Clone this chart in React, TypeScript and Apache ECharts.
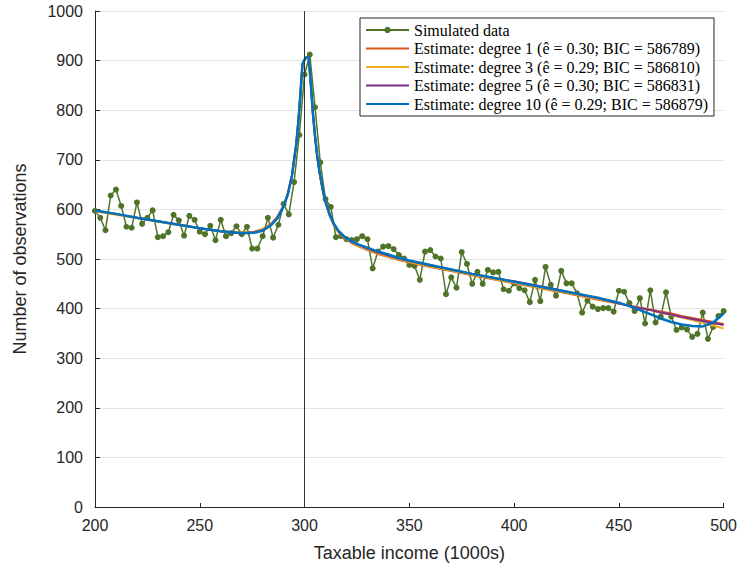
import React, { useEffect, useRef } from "react";
import * as echarts from "echarts";

// Income bins (1000s) of the simulated data
const incomeBins = [
  200, 202.5, 205, 207.5, 210, 212.5, 215, 217.5, 220, 222.5,
  225, 227.5, 230, 232.5, 235, 237.5, 240, 242.5, 245, 247.5,
  250, 252.5, 255, 257.5, 260, 262.5, 265, 267.5, 270, 272.5,
  275, 277.5, 280, 282.5, 285, 287.5, 290, 292.5, 295, 297.5,
  300, 302.5, 305, 307.5, 310, 312.5, 315, 317.5, 320, 322.5,
  325, 327.5, 330, 332.5, 335, 337.5, 340, 342.5, 345, 347.5,
  350, 352.5, 355, 357.5, 360, 362.5, 365, 367.5, 370, 372.5,
  375, 377.5, 380, 382.5, 385, 387.5, 390, 392.5, 395, 397.5,
  400, 402.5, 405, 407.5, 410, 412.5, 415, 417.5, 420, 422.5,
  425, 427.5, 430, 432.5, 435, 437.5, 440, 442.5, 445, 447.5,
  450, 452.5, 455, 457.5, 460, 462.5, 465, 467.5, 470, 472.5,
  475, 477.5, 480, 482.5, 485, 487.5, 490, 492.5, 495, 497.5,
  500,
];

// Number of observations per bin (simulated data)
const observed = [
  597, 583, 558, 628, 640, 607, 565, 563, 614, 571,
  583, 598, 544, 546, 554, 589, 578, 547, 587, 579,
  555, 550, 567, 538, 579, 546, 552, 566, 550, 565,
  521, 521, 546, 583, 543, 569, 611, 590, 655, 750,
  872, 912, 806, 695, 621, 605, 544, 546, 540, 538,
  540, 546, 540, 481, 515, 525, 526, 520, 508, 501,
  488, 486, 458, 515, 518, 505, 501, 429, 463, 442,
  514, 490, 450, 474, 450, 478, 473, 474, 439, 436,
  451, 441, 437, 413, 458, 415, 484, 448, 426, 476,
  451, 451, 431, 392, 416, 404, 399, 401, 401, 394,
  436, 434, 411, 395, 421, 370, 437, 372, 384, 433,
  384, 357, 362, 358, 343, 349, 392, 339, 363, 385,
  395,
];

// Evaluation grid of the fitted curves
const fitX = [
  200, 210, 220, 230, 240, 250, 260, 270, 276, 280,
  284, 287, 290, 292, 294, 296, 297, 298, 299, 300,
  301, 302, 303, 304, 305, 306, 307, 308, 309, 310,
  312, 314, 316, 318, 320, 323, 326, 330, 335, 340,
  345, 350, 360, 370, 380, 390, 400, 410, 420, 430,
  440, 450, 455, 460, 465, 470, 475, 480, 485, 490,
  495, 500,
];

const fitDeg1 = [
  597, 590, 583, 576, 569, 562, 556, 553, 555, 560,
  571, 585, 608, 632, 669, 731, 776, 831, 893, 902,
  907, 906, 852, 793, 747, 708, 678, 653, 631, 613,
  587, 568, 555, 546, 539, 531, 525, 518, 510, 504,
  498, 493, 484, 476, 467, 459, 451, 443, 435, 427,
  418, 410, 406, 402, 398, 394, 390, 385, 381, 377,
  373, 369,
];

const fitDeg3 = [
  596, 589, 582, 575, 568, 562, 556, 553, 555, 559,
  570, 584, 607, 631, 668, 730, 775, 830, 893, 902,
  907, 906, 852, 793, 747, 709, 679, 654, 632, 614,
  588, 569, 556, 547, 540, 532, 526, 519, 511, 505,
  499, 494, 485, 477, 468, 460, 452, 444, 436, 428,
  419, 410, 406, 401, 397, 392, 387, 382, 377, 371,
  366, 360,
];

const fitDeg5 = [
  598, 591, 583, 576, 569, 562, 556, 552, 554, 558,
  569, 583, 606, 630, 668, 730, 775, 830, 893, 902,
  907, 906, 852, 793, 748, 709, 679, 655, 633, 615,
  589, 570, 557, 548, 541, 533, 528, 521, 513, 507,
  501, 496, 487, 479, 470, 462, 455, 447, 439, 430,
  421, 410, 406, 401, 397, 392, 388, 383, 379, 375,
  371, 367,
];

const fitDeg10 = [
  598, 591, 583, 576, 569, 562, 556, 552, 553, 557,
  568, 582, 606, 630, 668, 730, 775, 830, 893, 902,
  907, 906, 852, 793, 748, 710, 680, 656, 634, 616,
  590, 571, 558, 549, 542, 535, 529, 523, 515, 509,
  502, 497, 488, 479, 470, 462, 454, 446, 438, 430,
  422, 412, 405, 397, 389, 380, 373, 368, 365, 364,
  372, 390,
];

const seriesNames = [
  "Simulated data",
  "Estimate: degree 1 (ê = 0.30; BIC = 586789)",
  "Estimate: degree 3 (ê = 0.29; BIC = 586810)",
  "Estimate: degree 5 (ê = 0.30; BIC = 586831)",
  "Estimate: degree 10 (ê = 0.29; BIC = 586879)",
];

const bunchingThreshold = 300;

const COLORS = {
  data: "#4f7428",
  deg1: "#D95319",
  deg3: "#EDB120",
  deg5: "#7E2F8E",
  deg10: "#0072BD",
  axis: "#262626",
};

function pairs(xs: number[], ys: number[]) {
  return xs.map((x, i) => [x, ys[i]]);
}

export default function App() {
  const ref = useRef<HTMLDivElement>(null);

  useEffect(() => {
    document.body.style.margin = "0";
    if (!ref.current) return;
    const chart = echarts.init(ref.current, null, { renderer: "svg" });

    const fitSeries = (name: string, ys: number[], color: string, width: number) => ({
      type: "line",
      name,
      data: pairs(fitX, ys),
      showSymbol: false,
      symbol: "none",
      smooth: false,
      lineStyle: { color, width },
      itemStyle: { color },
      z: 3,
    });

    chart.setOption({
      animation: false,
      backgroundColor: "#ffffff",
      textStyle: { fontFamily: "'Liberation Sans', Arial, sans-serif" },
      grid: { left: 95, right: 15, top: 11, bottom: 69 },
      legend: {
        orient: "vertical",
        left: 360,
        top: 18,
        itemWidth: 43,
        itemHeight: 8,
        itemGap: 2.5,
        padding: [4, 6, 4, 5],
        backgroundColor: "#ffffff",
        borderColor: COLORS.axis,
        borderWidth: 1,
        borderRadius: 0,
        textStyle: {
          fontFamily: "'Liberation Serif', 'DejaVu Serif', serif",
          fontSize: 16,
          lineHeight: 16,
          color: "#000000",
        },
        data: [
          { name: seriesNames[0] },
          { name: seriesNames[1], itemStyle: { opacity: 0 } },
          { name: seriesNames[2], itemStyle: { opacity: 0 } },
          { name: seriesNames[3], itemStyle: { opacity: 0 } },
          { name: seriesNames[4], itemStyle: { opacity: 0 } },
        ],
      },
      xAxis: {
        type: "value",
        min: 200,
        max: 500,
        interval: 50,
        name: "Taxable income (1000s)",
        nameLocation: "middle",
        nameGap: 37,
        nameTextStyle: { fontSize: 18, color: COLORS.axis },
        axisLine: { show: true, lineStyle: { color: COLORS.axis, width: 1 } },
        axisTick: { show: true, inside: true, length: 4, lineStyle: { color: COLORS.axis } },
        axisLabel: { fontSize: 16, color: COLORS.axis, margin: 10 },
        splitLine: { show: false },
      },
      yAxis: {
        type: "value",
        min: 0,
        max: 1000,
        interval: 100,
        name: "Number of observations",
        nameLocation: "middle",
        nameGap: 66,
        nameTextStyle: { fontSize: 18, color: COLORS.axis },
        axisLine: { show: true, lineStyle: { color: COLORS.axis, width: 1 } },
        axisTick: { show: true, inside: true, length: 5, lineStyle: { color: COLORS.axis } },
        axisLabel: {
          fontSize: 16,
          color: COLORS.axis,
          margin: 12,
          formatter: (v: number) => String(v),
        },
        splitLine: { show: true, lineStyle: { color: "#e3e3e3", width: 1 } },
      },
      series: [
        {
          type: "line",
          name: seriesNames[0],
          data: pairs(incomeBins, observed),
          symbol: "circle",
          symbolSize: 6,
          showSymbol: true,
          lineStyle: { color: COLORS.data, width: 1.5 },
          itemStyle: { color: COLORS.data },
          z: 2,
          markLine: {
            silent: true,
            symbol: "none",
            label: { show: false },
            lineStyle: { color: "#333333", width: 1, type: "solid" },
            data: [{ xAxis: bunchingThreshold }],
          },
        },
        fitSeries(seriesNames[1], fitDeg1, COLORS.deg1, 2),
        fitSeries(seriesNames[2], fitDeg3, COLORS.deg3, 2),
        fitSeries(seriesNames[3], fitDeg5, COLORS.deg5, 2),
        fitSeries(seriesNames[4], fitDeg10, COLORS.deg10, 2.5),
      ],
    });

    return () => chart.dispose();
  }, []);

  return <div ref={ref} style={{ width: 740, height: 576 }} />;
}
